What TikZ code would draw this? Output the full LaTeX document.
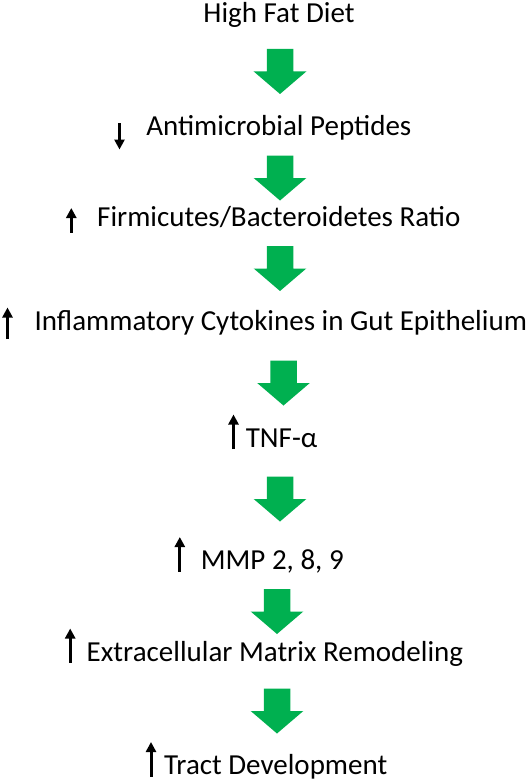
\documentclass[tikz,border=0pt]{standalone}
\usepackage{fontspec}
\setmainfont{Carlito}
\usetikzlibrary{arrows.meta}
\definecolor{officegreen}{HTML}{00B050}
\tikzset{
  lbl/.style={anchor=base, inner sep=0pt, font=\fontsize{29}{34}\selectfont},
  ind/.style={line width=3pt, -{Triangle[width=10pt,length=10pt]}},
}
\newcommand{\greenarrow}[2]{% center x, top y
  \fill[officegreen] (#1-13.25,#2) -- (#1+13.25,#2) -- (#1+13.25,#2+22.5) -- (#1+26.3,#2+22.5) -- (#1,#2+45) -- (#1-26.3,#2+22.5) -- (#1-13.25,#2+22.5) -- cycle;
}
\begin{document}
\begin{tikzpicture}[x=1pt,y=-1pt]
\useasboundingbox[fill=white] (0,0) rectangle (532,781);
\node[lbl] (hfd) at (279,23) {High Fat Diet};
\node[lbl] (amp) at (278.8,135.5) {Antimicrobial Peptides};
\node[lbl] (fbr) at (278.8,226.5) {Firmicutes/Bacteroidetes Ratio};
\node[lbl] (inf) at (280.8,330.5) {Inflammatory Cytokines in Gut Epithelium};
\node[lbl] (tnf) at (281.6,447.5) {TNF-α};
\node[lbl] (mmp) at (272.3,569.5) {MMP 2, 8, 9};
\node[lbl] (ecm) at (274.9,661) {Extracellular Matrix Remodeling};
\node[lbl] (tract) at (275.7,774.5) {Tract Development};
% green block arrows
\greenarrow{280}{49}
\greenarrow{280}{155.5}
\greenarrow{280}{246}
\greenarrow{283.5}{360.5}
\greenarrow{280}{476.5}
\greenarrow{277}{589}
\greenarrow{277}{688.5}
% indicator arrows
\draw[ind] (119.5,123.5) -- (119.5,149.5);
\draw[ind] (71.3,232.5) -- (71.3,208);
\draw[ind] (7.5,339) -- (7.5,307.5);
\draw[ind] (233.5,449) -- (233.5,414.5);
\draw[ind] (179.8,571.5) -- (179.8,537);
\draw[ind] (70.2,662.8) -- (70.2,628.5);
\draw[ind] (151,776.5) -- (151,742);
\end{tikzpicture}
\end{document}
